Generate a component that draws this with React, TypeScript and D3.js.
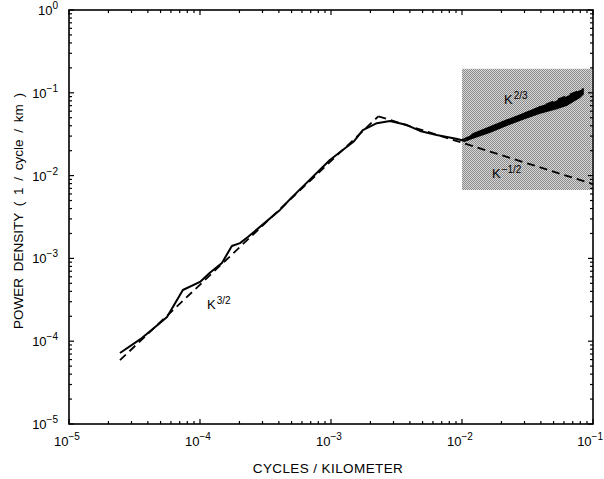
import React from 'react';
import * as d3 from 'd3';

const W = 604;
const H = 479;

// Axis extents (cycles / km, power density)
const xDomain: [number, number] = [1e-5, 1e-1];
const yDomain: [number, number] = [1e-5, 1];

// Measured spectrum, low-wavenumber part
const specK = [2.45e-5, 3.6e-5, 4.95e-5, 5.6e-5, 7.4e-5, 1e-4, 1.19e-4, 1.47e-4, 1.75e-4, 2.02e-4, 2.32e-4, 4.08e-4, 4.87e-4, 9.8e-4, 1.5e-3, 1.75e-3, 2.24e-3, 2.82e-3, 3.8e-3, 4.78e-3, 6.4e-3, 9.2e-3, 1.05e-2];
const specP = [7.2e-5, 1.09e-4, 1.66e-4, 1.96e-4, 4.15e-4, 5.2e-4, 6.7e-4, 8.8e-4, 1.41e-3, 1.53e-3, 1.81e-3, 3.85e-3, 5.2e-3, 1.54e-2, 2.6e-2, 3.55e-2, 4.3e-2, 4.56e-2, 4.08e-2, 3.46e-2, 3.09e-2, 2.77e-2, 2.62e-2];

// High-wavenumber band (upper / lower envelope of the noisy spectrum)
const bandK = [1.05e-2, 1.21e-2, 1.64e-2, 2.21e-2, 2.92e-2, 3.94e-2, 5.13e-2, 6.34e-2, 7.96e-2, 8.4e-2];
const bandHi = [2.62e-2, 3.18e-2, 3.86e-2, 4.69e-2, 5.54e-2, 6.74e-2, 7.74e-2, 8.89e-2, 0.105, 0.108];
const bandLo = [2.62e-2, 2.84e-2, 3.36e-2, 4.08e-2, 4.83e-2, 5.7e-2, 6.37e-2, 7.13e-2, 8.89e-2, 9.68e-2];

// Power-law reference lines (end points)
const law32K = [2.45e-5, 2.3e-3];
const law32P = [5.9e-5, 5.2e-2];
const lawM12K = [2.3e-3, 0.1];
const lawM12P = [5.2e-2, 7.9e-3];
const law23K = [1e-2, 8.5e-2];
const law23P = [2.69e-2, 0.112];

// Shaded region
const shadeK = [1e-2, 0.098];
const shadeP = [6.7e-3, 0.195];

const decadesX = [-5, -4, -3, -2, -1];
const decadesY = [-5, -4, -3, -2, -1, 0];

const FONT = '"Liberation Sans", Arial, Helvetica, sans-serif';

export default function App() {
  const x = d3.scaleLog().domain(xDomain).range([69, 593]);
  const y = d3.scaleLog().domain(yDomain).range([424, 10]);

  const line = d3
    .line<[number, number]>()
    .x((d) => x(d[0]))
    .y((d) => y(d[1]));

  const specPath = line(specK.map((k, i) => [k, specP[i]]));
  const band = d3
    .area<number>()
    .x((k) => x(k))
    .y0((_, i) => y(bandLo[i]))
    .y1((_, i) => y(bandHi[i]));
  const bandPath = band(bandK);

  const laws = [
    line(law32K.map((k, i) => [k, law32P[i]])),
    line(lawM12K.map((k, i) => [k, lawM12P[i]])),
    line(law23K.map((k, i) => [k, law23P[i]])),
  ];

  const isMajor = (v: number) => Math.abs(Math.log10(v) - Math.round(Math.log10(v))) < 1e-9;
  const xt = x.ticks();
  const yt = y.ticks();
  const [x0, x1] = x.range();
  const [y0, y1] = y.range();

  const sup = (e: number) => (e < 0 ? '\u2212' + Math.abs(e) : String(e));

  return (
    <svg
      width={W}
      height={H}
      style={{ position: 'absolute', left: 0, top: 0, background: '#fff' }}
      fontFamily={FONT}
    >
      <defs>
        <pattern id="halftone" width={2} height={2} patternUnits="userSpaceOnUse">
          <rect width={2} height={2} fill="#d6d6d6" />
          <rect width={1} height={1} fill="#8c8c8c" />
          <rect x={1} y={1} width={1} height={1} fill="#8c8c8c" />
        </pattern>
      </defs>
      <rect width={W} height={H} fill="#fff" />
      {/* shaded high-wavenumber region */}
      <rect
        x={x(shadeK[0])}
        y={y(shadeP[1])}
        width={x(shadeK[1]) - x(shadeK[0])}
        height={y(shadeP[0]) - y(shadeP[1])}
        fill="url(#halftone)"
      />

      {/* power-law reference lines */}
      {laws.map((d, i) => (
        <path key={i} d={d ?? ''} fill="none" stroke="#000" strokeWidth={1.8} strokeDasharray="8,5" />
      ))}

      {/* spectrum */}
      <path d={specPath ?? ''} fill="none" stroke="#000" strokeWidth={2} strokeLinejoin="round" />
      <path d={bandPath ?? ''} fill="#000" stroke="#000" strokeWidth={1.5} strokeLinejoin="round" />

      {/* frame */}
      <rect x={x0} y={y1} width={x1 - x0} height={y0 - y1} fill="none" stroke="#000" strokeWidth={1.6} />

      {/* ticks */}
      {xt.map((v, i) => {
        const len = isMajor(v) ? 5 : 3;
        const px = x(v);
        return (
          <g key={'xt' + i} stroke="#000" strokeWidth={1.2}>
            <line x1={px} x2={px} y1={y0} y2={y0 - len} />
            <line x1={px} x2={px} y1={y1} y2={y1 + len} />
          </g>
        );
      })}
      {yt.map((v, i) => {
        const len = isMajor(v) ? 5 : 3;
        const py = y(v);
        return (
          <g key={'yt' + i} stroke="#000" strokeWidth={1.2}>
            <line x1={x0} x2={x0 + len} y1={py} y2={py} />
            <line x1={x1} x2={x1 - len} y1={py} y2={py} />
          </g>
        );
      })}

      {/* tick labels */}
      {decadesX.map((e, i) => {
        const last = i === decadesX.length - 1;
        return (
          <text
            key={'xl' + e}
            x={last ? W - 1 : x(Math.pow(10, e)) - 2}
            y={446}
            textAnchor={last ? 'end' : 'middle'}
            fontSize={13}
            fill="#000"
          >
            <tspan>10</tspan>
            <tspan dy={-6} fontSize={10}>{sup(e)}</tspan>
          </text>
        );
      })}
      {decadesY.map((e) => (
        <text key={'yl' + e} x={58} y={y(Math.pow(10, e)) + 5} textAnchor="end" fontSize={13} fill="#000">
          <tspan>10</tspan>
          <tspan dy={-6} fontSize={10}>{sup(e)}</tspan>
        </text>
      ))}

      {/* power-law labels */}
      <text x={504} y={104} fontSize={13} fill="#000">
        <tspan>K</tspan>
        <tspan dx={1} dy={-5} fontSize={10}>2/3</tspan>
      </text>
      <text x={492} y={178} fontSize={13} fill="#000">
        <tspan>K</tspan>
        <tspan dx={1} dy={-5} fontSize={10}>{'\u22121/2'}</tspan>
      </text>
      <text x={207} y={309} fontSize={13} fill="#000">
        <tspan>K</tspan>
        <tspan dx={1} dy={-5} fontSize={10}>3/2</tspan>
      </text>

      {/* axis titles */}
      <text x={328} y={473} textAnchor="middle" fontSize={13.5} letterSpacing={0.4} fill="#000">
        CYCLES / KILOMETER
      </text>
      <text
        transform={`translate(23, 211) rotate(-90)`}
        textAnchor="middle"
        fontSize={13.5}
        fill="#000"
        wordSpacing={3}
      >
        POWER DENSITY ( 1 / cycle / km )
      </text>
    </svg>
  );
}
